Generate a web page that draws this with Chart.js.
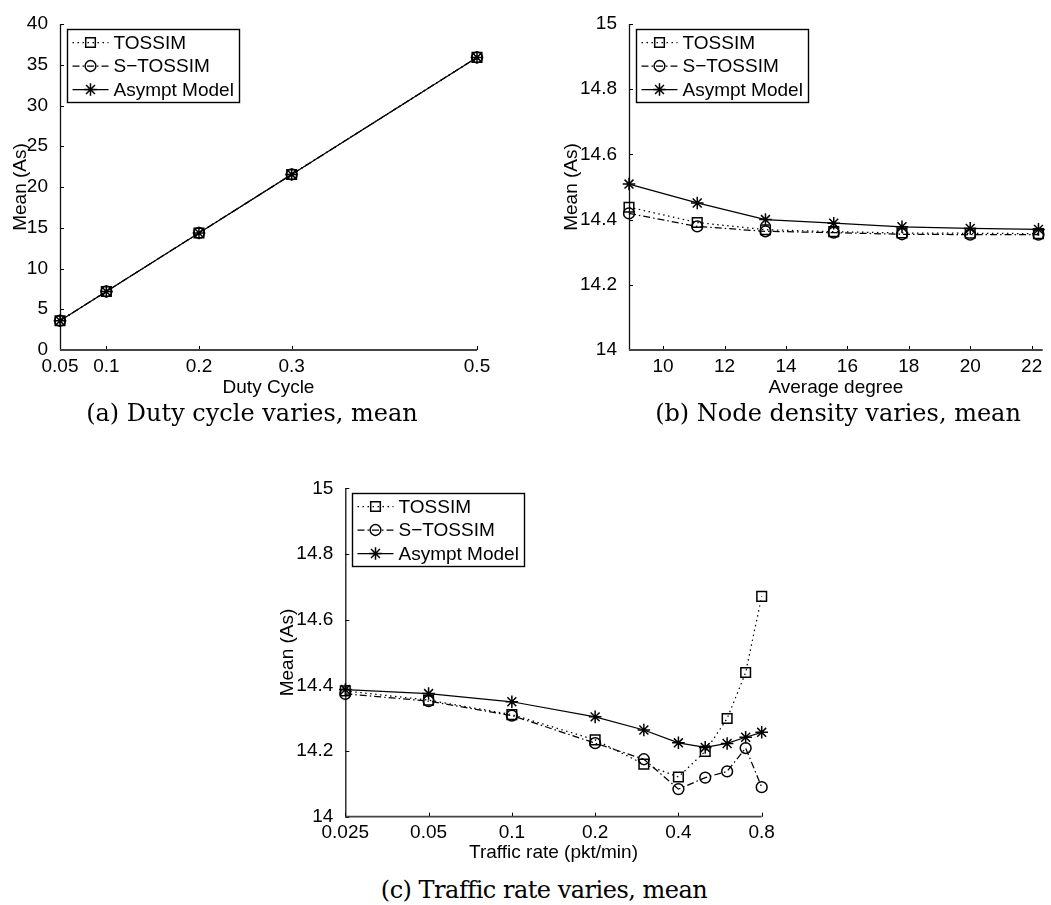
<!DOCTYPE html>
<html>
<head>
<meta charset="utf-8">
<script src="https://cdn.jsdelivr.net/npm/chart.js@4.4.1/dist/chart.umd.min.js"></script>
<style>
html,body{margin:0;padding:0;background:#fff;width:1051px;height:905px;overflow:hidden;}
.pane{position:absolute;}
.cap{position:absolute;font-family:"DejaVu Serif",serif;font-size:24px;color:#000;white-space:nowrap;transform:translateX(-50%);line-height:28px;}
</style>
</head>
<body>
<div class="pane" style="left:0px;top:0px"><canvas id="chartA" width="500" height="400"></canvas></div>
<div class="pane" style="left:520px;top:0px"><canvas id="chartB" width="531" height="400"></canvas></div>
<div class="pane" style="left:270px;top:430px"><canvas id="chartC" width="530" height="440"></canvas></div>
<div class="cap" style="left:252px;top:399px">(a) Duty cycle varies, mean</div>
<div class="cap" style="left:838px;top:399px">(b) Node density varies, mean</div>
<div class="cap" style="left:544px;top:876px;letter-spacing:-0.5px">(c) Traffic rate varies, mean</div>
<script>
// ---------- data ----------
const seriesNames = ['TOSSIM', 'S\u2212TOSSIM', 'Asympt Model'];

// (a) Duty cycle varies
const dutyCycle = [0.05, 0.1, 0.2, 0.3, 0.5];
const aTossim  = [3.59, 7.18, 14.36, 21.54, 35.9];
const aSTossim = [3.59, 7.18, 14.36, 21.54, 35.9];
const aAsympt  = [3.59, 7.18, 14.36, 21.54, 35.9];
const aXTicks = [0.05, 0.1, 0.2, 0.3, 0.5];
const aXTickLabels = ['0.05', '0.1', '0.2', '0.3', '0.5'];
const aYTicks = [0, 5, 10, 15, 20, 25, 30, 35, 40];
const aYTickLabels = ['0', '5', '10', '15', '20', '25', '30', '35', '40'];

// (b) Node density varies
const avgDegree = [8.889, 11.111, 13.333, 15.556, 17.778, 20.0, 22.222];
const bTossim  = [14.438, 14.391, 14.369, 14.363, 14.359, 14.358, 14.357];
const bSTossim = [14.419, 14.379, 14.364, 14.360, 14.355, 14.354, 14.354];
const bAsympt  = [14.509, 14.451, 14.400, 14.389, 14.378, 14.373, 14.370];
const bXTicks = [10, 12, 14, 16, 18, 20, 22];
const bXTickLabels = ['10', '12', '14', '16', '18', '20', '22'];
const bYTicks = [14, 14.2, 14.4, 14.6, 14.8, 15];
const bYTickLabels = ['14', '14.2', '14.4', '14.6', '14.8', '15'];

// (c) Traffic rate varies
const trafficRate = [0.025, 0.05, 0.1, 0.2, 0.3, 0.4, 0.5, 0.6, 0.7, 0.8];
const cTossim  = [14.383, 14.355, 14.311, 14.234, 14.160, 14.121, 14.199, 14.299, 14.439, 14.671];
const cSTossim = [14.374, 14.352, 14.308, 14.224, 14.175, 14.084, 14.119, 14.138, 14.209, 14.090];
const cAsympt  = [14.387, 14.375, 14.350, 14.304, 14.264, 14.225, 14.211, 14.223, 14.242, 14.257];
const cXTicks = [0.025, 0.05, 0.1, 0.2, 0.4, 0.8];
const cXTickLabels = ['0.025', '0.05', '0.1', '0.2', '0.4', '0.8'];
const cYTicks = [14, 14.2, 14.4, 14.6, 14.8, 15];
const cYTickLabels = ['14', '14.2', '14.4', '14.6', '14.8', '15'];

// ---------- styling ----------
Chart.defaults.font.family = "'Liberation Sans', Arial, Helvetica, sans-serif";
Chart.defaults.font.size = 19;
Chart.defaults.color = '#000';

const seriesStyle = [
  {borderDash: [1.5, 3.5], pointStyle: 'rect', pointRadius: 6.8},
  {borderDash: [7, 3, 1.5, 3], pointStyle: 'circle', pointRadius: 5.4},
  {borderDash: [], pointStyle: 'star', pointRadius: 6.3}
];

function makeDatasets(xs, ysList) {
  return ysList.map((ys, i) => ({
    label: seriesNames[i],
    data: xs.map((x, k) => ({x: x, y: ys[k]})),
    borderColor: '#000',
    borderWidth: 1.25,
    borderDash: seriesStyle[i].borderDash,
    pointStyle: seriesStyle[i].pointStyle,
    pointRadius: seriesStyle[i].pointRadius,
    pointBorderColor: '#000',
    pointBackgroundColor: 'rgba(0,0,0,0)',
    pointBorderWidth: 1.5,
    tension: 0,
    fill: false,
    clip: false
  }));
}

const matlabAxes = {
  id: 'matlabAxes',
  beforeDatasetsDraw(chart) {
    const {ctx, chartArea: {left, right, top, bottom}} = chart;
    const xs = chart.scales.x, ys = chart.scales.y;
    ctx.save();
    ctx.strokeStyle = '#000';
    ctx.lineWidth = 1;
    xs.ticks.forEach(t => {
      const p = Math.round(xs.getPixelForValue(t.value)) + 0.5;
      ctx.beginPath(); ctx.moveTo(p, bottom); ctx.lineTo(p, bottom - 4); ctx.stroke();
    });
    ys.ticks.forEach(t => {
      const p = Math.round(ys.getPixelForValue(t.value)) + 0.5;
      ctx.beginPath(); ctx.moveTo(left, p); ctx.lineTo(left + 4, p); ctx.stroke();
    });
    ctx.lineWidth = 1.3;
    ctx.strokeStyle = '#111';
    ctx.beginPath(); ctx.moveTo(left + 0.5, top); ctx.lineTo(left + 0.5, bottom); ctx.stroke();
    ctx.strokeStyle = '#444';
    ctx.lineWidth = 1.8;
    ctx.beginPath(); ctx.moveTo(left, bottom); ctx.lineTo(right, bottom); ctx.stroke();
    ctx.restore();
  },
  afterDraw(chart) {
    const {ctx, chartArea} = chart;
    const bx = Math.round(chartArea.left + 7) + 0.5, by = Math.round(chartArea.top + 5) + 0.5;
    const bw = 172, bh = 73;
    ctx.save();
    ctx.fillStyle = '#fff';
    ctx.fillRect(bx, by, bw, bh);
    ctx.strokeStyle = '#000';
    ctx.lineWidth = 1.4;
    ctx.strokeRect(bx, by, bw, bh);
    chart.data.datasets.forEach((ds, i) => {
      const cy = by + 13 + i * 23.5;
      ctx.strokeStyle = '#000';
      ctx.lineWidth = 1.25;
      ctx.setLineDash(ds.borderDash || []);
      ctx.beginPath(); ctx.moveTo(bx + 5, cy); ctx.lineTo(bx + 41, cy); ctx.stroke();
      ctx.setLineDash([]);
      ctx.fillStyle = 'rgba(0,0,0,0)';
      ctx.lineWidth = 1.5;
      Chart.helpers.drawPoint(ctx, {pointStyle: ds.pointStyle, radius: ds.pointRadius, rotation: 0, borderWidth: 1.5}, bx + 23, cy);
      ctx.fillStyle = '#000';
      ctx.font = "19px 'Liberation Sans', Arial, sans-serif";
      ctx.textBaseline = 'middle';
      ctx.textAlign = 'left';
      ctx.fillText(ds.label, bx + 46, cy + 1);
    });
    ctx.restore();
  }
};

function buildChart(id, p) {
  return new Chart(document.getElementById(id), {
    type: 'line',
    data: {datasets: makeDatasets(p.xs, p.series)},
    plugins: [matlabAxes],
    options: {
      responsive: false,
      animation: false,
      events: [],
      layout: {padding: {left: 0, top: p.padTop, right: p.padRight, bottom: 0}},
      plugins: {legend: {display: false}, tooltip: {enabled: false}},
      scales: {
        x: {
          type: p.xType, min: p.xMin, max: p.xMax,
          afterBuildTicks: s => { s.ticks = p.xTicks.map(v => ({value: v})); },
          afterFit: s => { s.height = p.xH; },
          grid: {display: false}, border: {display: false},
          ticks: {padding: -3, maxRotation: 0, autoSkip: false, callback: (v, i) => p.xTickLabels[i]},
          title: {display: true, text: p.xTitle, padding: {top: 0, bottom: p.xTitlePad}}
        },
        y: {
          type: 'linear', min: p.yMin, max: p.yMax,
          afterBuildTicks: s => { s.ticks = p.yTicks.map(v => ({value: v})); },
          afterFit: s => { s.width = p.yW; },
          grid: {display: false}, border: {display: false},
          ticks: {padding: 4, autoSkip: false, callback: (v, i) => p.yTickLabels[i]},
          title: {display: true, text: 'Mean (As)', padding: {top: p.yTitlePad, bottom: 0}}
        }
      }
    }
  });
}

buildChart('chartA', {
  xs: dutyCycle, series: [aTossim, aSTossim, aAsympt],
  xType: 'linear', xMin: 0.05, xMax: 0.5, xTicks: aXTicks, xTickLabels: aXTickLabels,
  yMin: 0, yMax: 40, yTicks: aYTicks, yTickLabels: aYTickLabels,
  xTitle: 'Duty Cycle', padTop: 24, padRight: 23, xH: 50, yW: 60, yTitlePad: 9.3, xTitlePad: 1
});
buildChart('chartB', {
  xs: avgDegree, series: [bTossim, bSTossim, bAsympt],
  xType: 'linear', xMin: 8.889, xMax: 22.36, xTicks: bXTicks, xTickLabels: bXTickLabels,
  yMin: 14, yMax: 15, yTicks: bYTicks, yTickLabels: bYTickLabels,
  xTitle: 'Average degree', padTop: 24, padRight: 0, xH: 50, yW: 109, yTitlePad: 40.6, xTitlePad: 1
});
buildChart('chartC', {
  xs: trafficRate, series: [cTossim, cSTossim, cAsympt],
  xType: 'logarithmic', xMin: 0.025, xMax: 0.8, xTicks: cXTicks, xTickLabels: cXTickLabels,
  yMin: 14, yMax: 15, yTicks: cYTicks, yTickLabels: cYTickLabels,
  xTitle: 'Traffic rate (pkt/min)', padTop: 58.3, padRight: 38.3, xH: 53.3, yW: 75.3, yTitlePad: 6.6, xTitlePad: 5.5
});
</script>
</body>
</html>
